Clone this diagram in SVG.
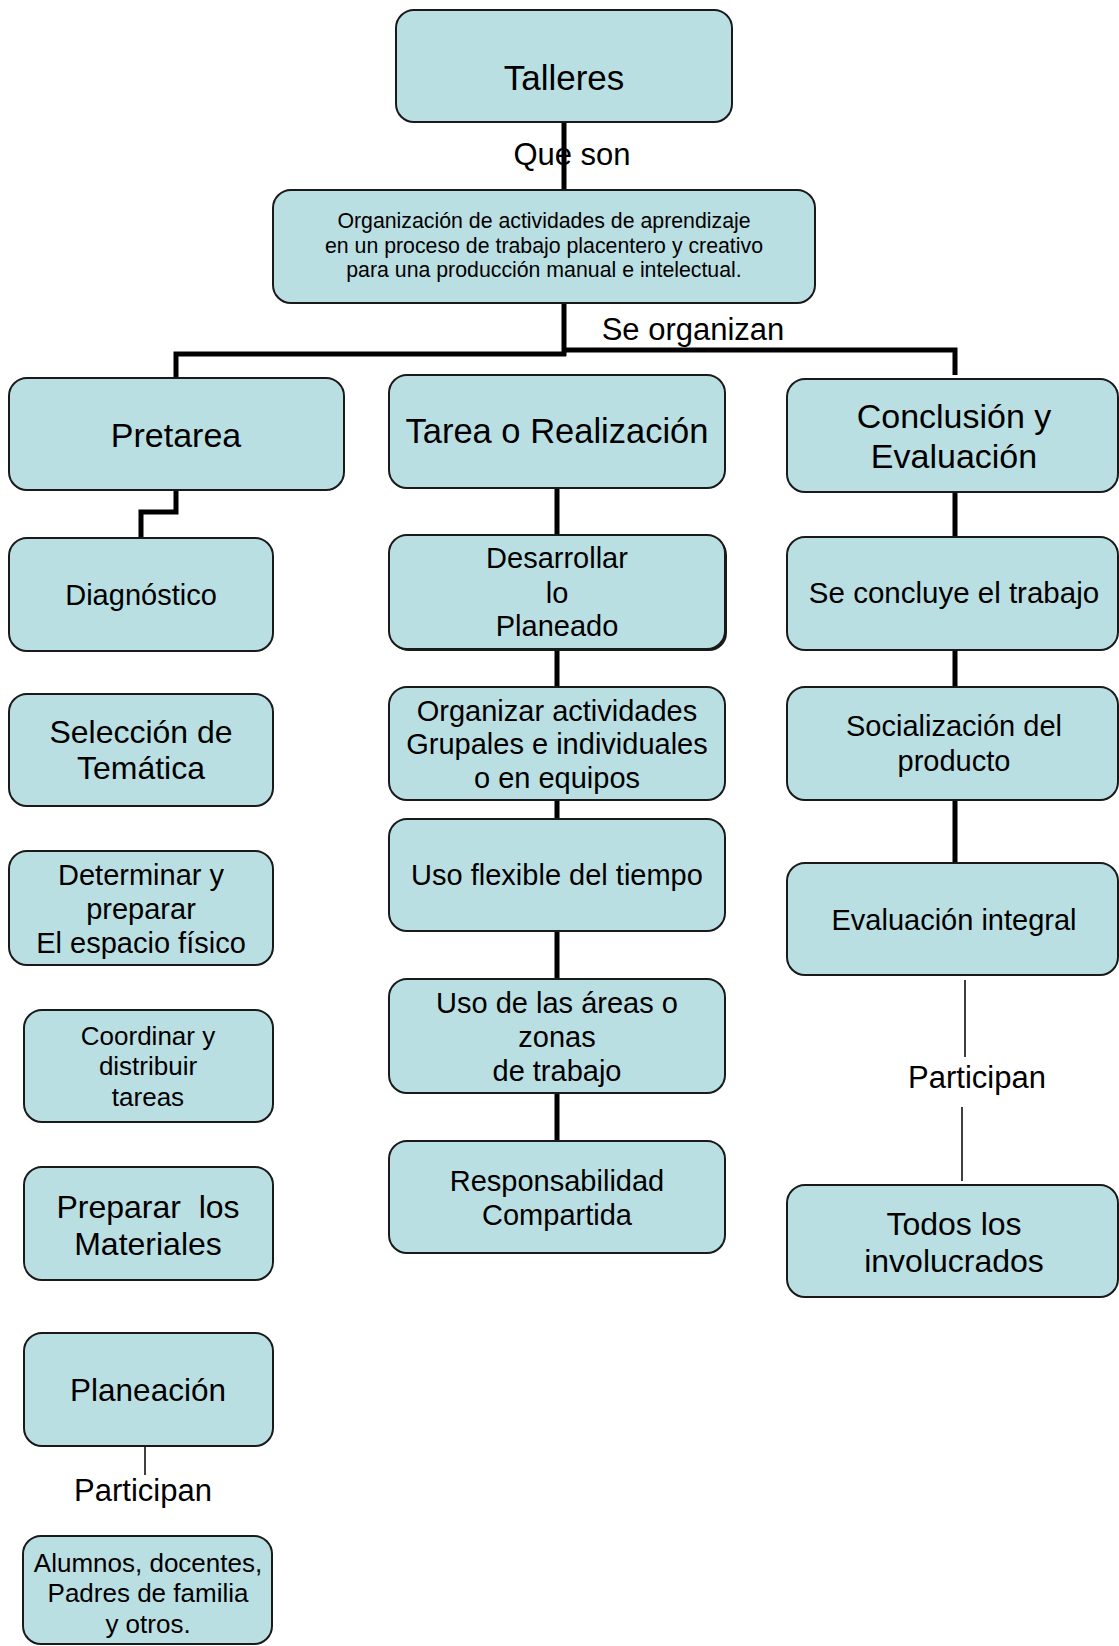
<svg xmlns="http://www.w3.org/2000/svg" width="1119" height="1646" viewBox="0 0 1119 1646">
<style>
.box{fill:#BADFE3;stroke:#1a1a1a;stroke-width:2}
.t{font-family:"Liberation Sans",Arial,sans-serif;fill:#000;text-anchor:middle}
.thick{fill:none;stroke:#000;stroke-width:5}
.thin{fill:none;stroke:#000;stroke-width:1.5}
</style>
<rect width="1119" height="1646" fill="#fff"/>
<g id="connectors">
<path class="thick" d="M564,122V190"/>
<path class="thick" d="M564,303V356"/>
<path class="thick" d="M176,378V354H566"/>
<path class="thick" d="M562,350H955V375"/>
<path class="thick" d="M176,490V512H141V538"/>
<path class="thick" d="M557,488V535M557,649V687M557,800V819M557,931V979M557,1093V1141"/>
<path class="thick" d="M955,492V537M955,650V687M955,800V863"/>
<path class="thin" d="M145,1446V1475"/>
<path class="thin" d="M965,980V1057M962,1107V1181"/>
</g>
<g id="label-que-son"><text class="t" x="572" y="165" font-size="31">Que son</text></g>
<g id="label-se-organizan"><text class="t" x="693" y="340" font-size="31">Se organizan</text></g>
<g id="label-participan-1"><text class="t" x="143" y="1501" font-size="31">Participan</text></g>
<g id="label-participan-2"><text class="t" x="977" y="1088" font-size="31">Participan</text></g>

<g id="talleres"><rect class="box" x="396" y="10" width="336" height="112" rx="18"/>
<text class="t" x="564" y="90" font-size="35">Talleres</text></g>

<g id="organizacion"><rect class="box" x="273" y="190" width="542" height="113" rx="18"/>
<text class="t" font-size="21.3"><tspan x="544" y="228">Organización de actividades de aprendizaje</tspan><tspan x="544" y="253">en un proceso de trabajo placentero y creativo</tspan><tspan x="544" y="277">para una producción manual e intelectual.</tspan></text></g>

<g id="pretarea"><rect class="box" x="9" y="378" width="335" height="112" rx="18"/>
<text class="t" x="176" y="447" font-size="34">Pretarea</text></g>

<g id="tarea"><rect class="box" x="389" y="375" width="336" height="113" rx="18"/>
<text class="t" x="557" y="443" font-size="34.5">Tarea o Realización</text></g>

<g id="conclusion"><rect class="box" x="787" y="379" width="331" height="113" rx="18"/>
<text class="t" font-size="34"><tspan x="954" y="428">Conclusión y</tspan><tspan x="954" y="468">Evaluación</tspan></text></g>

<g id="diagnostico"><rect class="box" x="9" y="538" width="264" height="113" rx="18"/>
<text class="t" x="141" y="605" font-size="29">Diagnóstico</text></g>

<g id="seleccion"><rect class="box" x="9" y="694" width="264" height="112" rx="18"/>
<text class="t" font-size="32"><tspan x="141" y="743">Selección de</tspan><tspan x="141" y="779">Temática</tspan></text></g>

<g id="determinar"><rect class="box" x="9" y="851" width="264" height="114" rx="18"/>
<text class="t" font-size="29"><tspan x="141" y="885">Determinar y</tspan><tspan x="141" y="919">preparar</tspan><tspan x="141" y="953">El espacio físico</tspan></text></g>

<g id="coordinar"><rect class="box" x="24" y="1010" width="249" height="112" rx="18"/>
<text class="t" font-size="26"><tspan x="148" y="1045">Coordinar y</tspan><tspan x="148" y="1075">distribuir</tspan><tspan x="148" y="1106">tareas</tspan></text></g>

<g id="preparar"><rect class="box" x="24" y="1167" width="249" height="113" rx="18"/>
<text class="t" font-size="32" xml:space="preserve"><tspan x="148" y="1218">Preparar  los</tspan><tspan x="148" y="1255">Materiales</tspan></text></g>

<g id="planeacion"><rect class="box" x="24" y="1333" width="249" height="113" rx="18"/>
<text class="t" x="148" y="1401" font-size="31.5">Planeación</text></g>

<g id="alumnos"><rect class="box" x="23" y="1536" width="249" height="108" rx="18"/>
<text class="t" font-size="26"><tspan x="148" y="1572">Alumnos, docentes,</tspan><tspan x="148" y="1602">Padres de familia</tspan><tspan x="148" y="1633">y otros.</tspan></text></g>

<g id="desarrollar"><rect x="391" y="537" width="336" height="114" rx="18" fill="#1a1a1a"/><rect class="box" x="389" y="535" width="336" height="114" rx="18"/>
<text class="t" font-size="29"><tspan x="557" y="568">Desarrollar</tspan><tspan x="557" y="603">lo</tspan><tspan x="557" y="636">Planeado</tspan></text></g>

<g id="organizar"><rect class="box" x="389" y="687" width="336" height="113" rx="18"/>
<text class="t" font-size="29"><tspan x="557" y="721">Organizar actividades</tspan><tspan x="557" y="754">Grupales e individuales</tspan><tspan x="557" y="788">o en equipos</tspan></text></g>

<g id="uso-flexible"><rect class="box" x="389" y="819" width="336" height="112" rx="18"/>
<text class="t" x="557" y="885" font-size="29">Uso flexible del tiempo</text></g>

<g id="uso-areas"><rect class="box" x="389" y="979" width="336" height="114" rx="18"/>
<text class="t" font-size="29"><tspan x="557" y="1013">Uso de las áreas o</tspan><tspan x="557" y="1047">zonas</tspan><tspan x="557" y="1081">de trabajo</tspan></text></g>

<g id="responsabilidad"><rect class="box" x="389" y="1141" width="336" height="112" rx="18"/>
<text class="t" font-size="29"><tspan x="557" y="1191">Responsabilidad</tspan><tspan x="557" y="1225">Compartida</tspan></text></g>

<g id="se-concluye"><rect class="box" x="787" y="537" width="331" height="113" rx="18"/>
<text class="t" x="954" y="603" font-size="29.5">Se concluye el trabajo</text></g>

<g id="socializacion"><rect class="box" x="787" y="687" width="331" height="113" rx="18"/>
<text class="t" font-size="29"><tspan x="954" y="736">Socialización del</tspan><tspan x="954" y="771">producto</tspan></text></g>

<g id="evaluacion"><rect class="box" x="787" y="863" width="331" height="112" rx="18"/>
<text class="t" x="954" y="930" font-size="29">Evaluación integral</text></g>

<g id="todos"><rect class="box" x="787" y="1185" width="331" height="112" rx="18"/>
<text class="t" font-size="32"><tspan x="954" y="1235">Todos los</tspan><tspan x="954" y="1272">involucrados</tspan></text></g>
</svg>
